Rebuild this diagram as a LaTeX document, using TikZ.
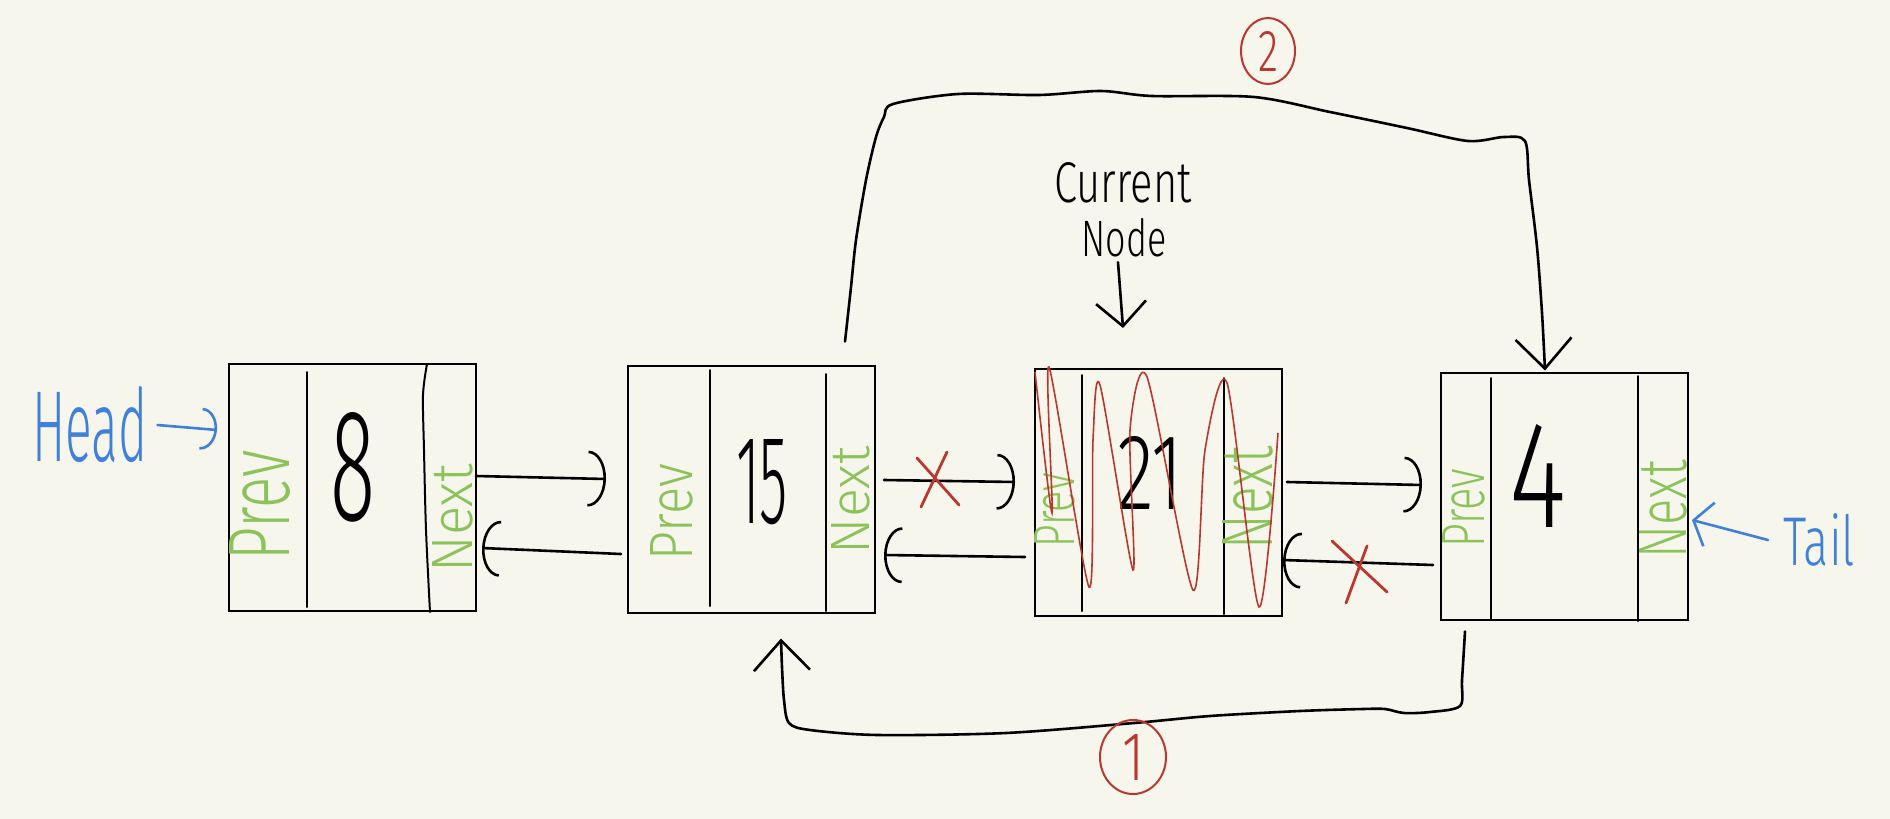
\documentclass[tikz,border=0pt]{standalone}
\usepackage{fontspec}
\setmainfont{Fira Sans Light}
\usepackage{graphicx}
\usetikzlibrary{arrows.meta,calc,shapes.geometric}
\definecolor{paper}{HTML}{F6F6ED}
\definecolor{inkblue}{HTML}{3F80DA}
\definecolor{inkgreen}{HTML}{8CC25A}
\definecolor{inkred}{HTML}{B9372C}
\begin{document}
\begin{tikzpicture}[x=1pt,y=1pt,
 every node/.style={inner sep=0pt, outer sep=0pt, font=\fontsize{60}{72}\selectfont},
 boxnode/.style={draw=black, line width=2pt, minimum width=247pt, minimum height=247pt},
 divline/.style={line width=2pt, line cap=round},
 inkline/.style={line width=2.6pt, line cap=round, line join=round},
 flatarrow/.style={inkline, -{Arc Barb[length=18pt,width=56pt]}},
 bentarrow/.style={inkline, -{Straight Barb[length=30pt,width=56pt]}},
 fieldlbl/.style={text=inkgreen, rotate=90},
 vallbl/.style={text=black},
 ptrlbl/.style={text=inkblue},
 steplbl/.style={draw=inkred, line width=2pt, ellipse, text=inkred},
 redx/.style={draw=inkred, line width=2.8pt, line cap=round},
 scrib/.style={draw=inkred, line width=1.6pt},
]
\fill[paper] (0,0) rectangle (1890,-819);

% boxes
\node[boxnode] (b1) at (352.5,-487.5) {};
\node[boxnode] (b2) at (751.5,-489) {};
\node[boxnode] (b3) at (1158.5,-492.5) {};
\node[boxnode] (b4) at (1564.5,-496) {};

% dividers
\draw[divline] (307,-372) -- (307,-607);
\draw[divline] plot[smooth] coordinates {(427,-364) (423,-395) (424,-450) (426,-530) (430,-612)};
\draw[divline] (710,-370) -- (710,-606);
\draw[divline] (826,-374) -- (826,-611);
\draw[divline] (1082,-375) -- (1082,-611);
\draw[divline] (1224,-378) -- (1224,-614);
\draw[divline] (1491,-378) -- (1491,-619);
\draw[divline] (1638,-376) -- (1638,-621);

% field labels
\node[fieldlbl] (p1) at (260,-505) {\resizebox{110pt}{60pt}{Prev}};
\node[fieldlbl] (n1) at (453,-518) {\resizebox{109pt}{40pt}{Next}};
\node[fieldlbl] (p2) at (672,-512) {\resizebox{96pt}{42pt}{Prev}};
\node[fieldlbl] (n2) at (851,-500) {\resizebox{108pt}{38pt}{Next}};
\node[fieldlbl] (p3) at (1055,-510) {\resizebox{75pt}{40pt}{Prev}};
\node[fieldlbl] (n3) at (1248,-498) {\resizebox{103pt}{50pt}{Next}};
\node[fieldlbl] (p4) at (1464,-508) {\resizebox{79pt}{42pt}{Prev}};
\node[fieldlbl] (n4) at (1663,-509) {\resizebox{98pt}{47pt}{Next}};

% values
\node[vallbl] (v1) at (353,-467) {\resizebox{45pt}{108pt}{8}};
\node[vallbl] (v2) at (762,-482) {\resizebox{52pt}{84pt}{15}};
\node[vallbl] (v3) at (1150,-473) {\resizebox{66pt}{73pt}{21}};
\node[vallbl] (v4) at (1538,-476) {\resizebox{57pt}{103pt}{4}};

% scribble over the current node
\draw[scrib] plot[smooth, tension=0.45] coordinates {(1035,-372) (1052,-513) (1049,-367) (1089,-587) (1093,-440) (1100,-385) (1133,-570) (1130,-430) (1147,-377) (1193,-590) (1205,-450) (1227,-383) (1259,-607) (1278,-433)};

% head / tail
\node[ptrlbl] (head) at (90,-425) {\resizebox{115pt}{75pt}{Head}};
\draw[inkline, draw=inkblue, -{Arc Barb[length=16pt,width=42pt]}] ([xshift=10pt]head.east) -- ([xshift=-12pt,yshift=57.5pt]b1.west);
\node[ptrlbl] (tail) at (1819,-540) {\resizebox{72pt}{52pt}{Tail}};
\draw[inkline, draw=inkblue, -{Straight Barb[length=16pt,width=45pt]}] ([xshift=-15pt]tail.west) -- ([xshift=4pt,yshift=-24pt]b4.east);

% current node label
\node (cur1) at (1123,-183) {\resizebox{137pt}{40pt}{Current}};
\node (cur2) at (1124,-238) {\resizebox{85pt}{38pt}{Node}};
\draw[inkline, -{Straight Barb[length=24pt,width=50pt]}] ([xshift=-6pt,yshift=-5pt]cur2.south) -- ([xshift=-35.5pt,yshift=41pt]b3.north);

% links between boxes
\draw[flatarrow] ([yshift=11.5pt]b1.east) -- ([xshift=-22pt,yshift=10pt]b2.west);
\draw[flatarrow] ([xshift=-7pt,yshift=-65pt]b2.west) -- ([xshift=6pt,yshift=-60.5pt]b1.east);
\draw[flatarrow] ([xshift=9pt,yshift=9pt]b2.east) -- ([xshift=-20pt,yshift=10.5pt]b3.west);
\draw[flatarrow] ([xshift=-10pt,yshift=-64.5pt]b3.west) -- ([xshift=9pt,yshift=-66pt]b2.east);
\draw[flatarrow] ([xshift=5pt,yshift=10.5pt]b3.east) -- ([xshift=-19pt,yshift=11pt]b4.west);
\draw[flatarrow] ([xshift=-8pt,yshift=-69pt]b4.west) -- ([xshift=1pt,yshift=-67.5pt]b3.east);

% crosses on removed links
\draw[redx] (917,-458) -- (959,-505);
\draw[redx] (947,-452) -- (921,-507);
\draw[redx] (1332,-541) -- (1387,-592);
\draw[redx] (1367,-546) -- (1346,-603);

% step 2: 15 -> 4 over the top
\coordinate (s2a) at ([xshift=-30pt,yshift=24pt]b2.north east);
\coordinate (s2b) at ([xshift=-19.5pt,yshift=2pt]b4.north);
\draw[bentarrow] plot[smooth, tension=0.5] coordinates {(s2a) (851,-287) (856,-240) (866,-180) (876,-137) (884,-117) (893,-104) (958,-94) (1039,-95) (1101,-91) (1152,-96) (1254,-97) (1330,-112) (1407,-128) (1468,-141) (1504,-137) (1525,-141) (1529,-180) (1537,-247) (1542,-313) (s2b)};
\node[steplbl, minimum width=54pt, minimum height=66pt] (step2) at (1268,-51) {\resizebox{20pt}{40pt}{2}};

% step 1: 4 -> 15 along the bottom
\coordinate (s1a) at ([xshift=-99.5pt,yshift=-12pt]b4.south);
\coordinate (s1b) at ([xshift=29.5pt,yshift=-26pt]b2.south);
\draw[bentarrow] plot[smooth, tension=0.5] coordinates {(s1a) (1462,-680) (1460,-706) (1430,-712) (1404,-713) (1385,-709) (1363,-709) (1300,-711) (1210,-716) (1134,-723) (1006,-733) (878,-735) (810,-730) (789,-723) (784,-700) (782,-667) (s1b)};
\node[steplbl, minimum width=66pt, minimum height=74pt] (step1) at (1133,-757) {\resizebox{22pt}{46pt}{1}};
\end{tikzpicture}
\end{document}
